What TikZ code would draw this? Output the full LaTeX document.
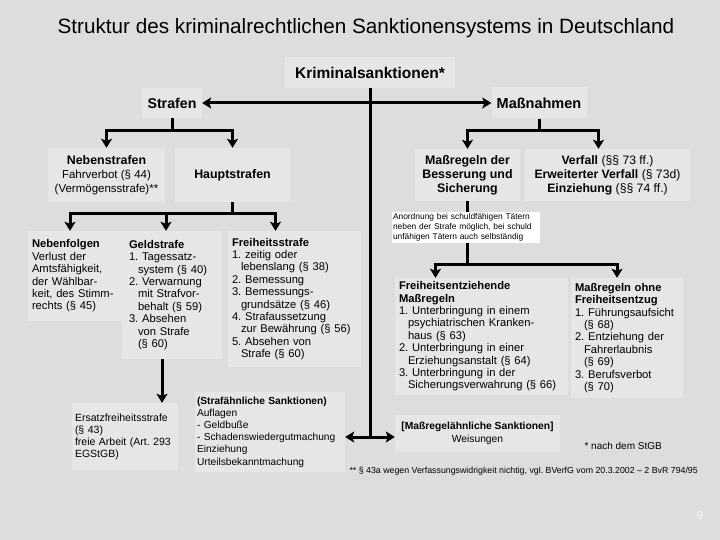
\documentclass[tikz,border=0pt]{standalone}
\usepackage{fontspec}
\setmainfont{Liberation Sans}
\usepackage{tikz}
\usetikzlibrary{arrows.meta,positioning,calc}
\frenchspacing
\definecolor{slidegray}{RGB}{221,221,221}
\definecolor{boxgray}{RGB}{230,230,230}
\definecolor{pagegray}{RGB}{245,245,245}
\newcommand{\fs}[2]{\fontsize{#1}{#2}\selectfont}
\newcommand{\contind}{\hspace*{9pt}}
\tikzset{
  headbox/.style={
    fill=boxgray,
    align=center,
    inner sep=2pt,
    font=\bfseries\fs{12.4}{14}
  },
  box/.style={
    fill=boxgray,
    align=left,
    inner xsep=4pt,
    inner ysep=2pt,
    font=\fs{11.2}{12.4}
  },
  notebox/.style={
    fill=white,
    align=left,
    inner xsep=1.5pt,
    inner ysep=1pt,
    font=\fs{8.4}{10}
  },
  link/.style={line width=3pt,black},
  arr/.style={link,-{Stealth[length=9pt,width=11pt,inset=2pt]}}
}

\begin{document}
\begin{tikzpicture}[x=1pt,y=-1pt]
        \useasboundingbox (0,0) rectangle (720,540);
        \fill[slidegray] (0,0) rectangle (720,540);

        \node[font=\fs{20.7}{24}] (title) at (366,28) {Struktur des kriminalrechtlichen Sanktionensystems in Deutschland};
        \node[headbox,font=\bfseries\fs{15.5}{18},minimum width=170pt,minimum height=31pt] (krim) at (370,72.5) {Kriminalsanktionen*};
        \node[headbox,font=\bfseries\fs{14.2}{16},minimum width=60pt,minimum height=30pt] (strafen) at (172,103) {Strafen};
        \node[headbox,font=\bfseries\fs{14.5}{16},minimum width=95pt,minimum height=31pt] (massn) at (539,103) {Maßnahmen};

        \node[headbox,minimum width=117pt,minimum height=54pt] (neben) at (106.5,175)
          {Nebenstrafen\\\mdseries\fs{11.5}{12.5}Fahrverbot (§ 44)\\\mdseries\fs{11.5}{12.5}(Vermögensstrafe)**};
        \node[headbox,minimum width=115pt,minimum height=54pt] (haupt) at (232.5,175) {Hauptstrafen};
        \node[headbox,minimum width=105pt,minimum height=52pt] (massreg) at (467.5,175)
          {Maßregeln der\\Besserung und\\Sicherung};
        \node[headbox,font=\fs{12.2}{14},minimum width=165pt,minimum height=52pt] (verfall) at (607.5,175)
          {\textbf{Verfall} (§§ 73 ff.)\\\textbf{Erweiterter Verfall} (§ 73d)\\\textbf{Einziehung} (§§ 74 ff.)};

        \node[box,text width=86pt,minimum width=92pt,minimum height=90pt] (nebenfolgen) at (75,276)
          {\textbf{Nebenfolgen}\\Verlust der\\Amtsfähigkeit,\\der Wählbar-\\keit, des Stimm-\\rechts (§ 45)};
        \node[box,inner xsep=7pt,text width=86pt,minimum width=100pt,minimum height=128pt] (geld) at (172,295)
          {\textbf{Geldstrafe}\\1. Tagessatz-\\\contind system (§ 40)\\2. Verwarnung\\\contind mit Strafvor-\\\contind behalt (§ 59)\\3. Absehen\\\contind von Strafe\\\contind (§ 60)};
        \node[box,text width=125pt,minimum width=133pt,minimum height=136pt] (freiheit) at (294.5,299)
          {\textbf{Freiheitsstrafe}\\1. zeitig oder\\\contind lebenslang (§ 38)\\2. Bemessung\\3. Bemessungs-\\\contind grundsätze (§ 46)\\4. Strafaussetzung\\\contind zur Bewährung (§ 56)\\5. Absehen von\\\contind Strafe (§ 60)};

        \node[box,text width=165pt,minimum width=173pt,minimum height=117pt] (freient) at (481.5,336.5)
          {\textbf{Freiheitsentziehende}\\\textbf{Maßregeln}\\1. Unterbringung in einem\\\contind psychiatrischen Kranken-\\\contind haus (§ 63)\\2. Unterbringung in einer\\\contind Erziehungsanstalt (§ 64)\\3. Unterbringung in der\\\contind Sicherungsverwahrung (§ 66)};
        \node[box,text width=104pt,minimum width=110pt,minimum height=120pt] (ohne) at (627,338)
          {\textbf{Maßregeln ohne}\\\textbf{Freiheitsentzug}\\1. Führungsaufsicht\\\contind (§ 68)\\2. Entziehung der\\\contind Fahrerlaubnis\\\contind (§ 69)\\3. Berufsverbot\\\contind (§ 70)};

        \node[box,font=\fs{10.5}{12},inner xsep=3pt,text width=100pt,minimum width=106pt,minimum height=67pt] (ersatz) at (125,436.5)
          {Ersatzfreiheitsstrafe\\(§ 43)\\freie Arbeit (Art. 293\\EGStGB)};
        \node[box,font=\fs{10.2}{12.2},inner xsep=2pt,text width=146pt,minimum width=150pt,minimum height=80pt] (strafaehn) at (270,432)
          {\textbf{(Strafähnliche Sanktionen)}\\Auflagen\\- Geldbuße\\- Schadenswiedergutmachung\\Einziehung\\Urteilsbekanntmachung};
        \node[headbox,font=\fs{10.3}{12.4},minimum width=165pt,minimum height=37pt] (massaehn) at (477.5,433.5)
          {\textbf{[Maßregelähnliche Sanktionen]}\\Weisungen};

        \node[anchor=west,font=\fs{10}{12}] (stgb) at (581,446) {* nach dem StGB};
        \node[anchor=west,font=\fs{8.8}{10}] (fussnote) at (346,471)
          {** § 43a wegen Verfassungswidrigkeit nichtig, vgl. BVerfG vom 20.3.2002 – 2 BvR 794/95};
        \node[text=pagegray,font=\fs{12}{14}] (pnum) at (700,515) {9};

        \coordinate (top) at (370,103);
        \coordinate (bot) at (370,437);
        \coordinate (sj) at ($(strafen.south)+(0,12)$);
        \coordinate (mj) at ($(massn.south)+(0,12)$);
        \coordinate (hj) at ($(haupt.south)+(0,11)$);
        \coordinate (rj) at (massreg.south |- 0,264);

        \draw[link] (krim.south) -- (bot);
        \draw[arr] (top) -- (strafen.east);
        \draw[arr] (top) -- (massn.west);
        \draw[arr] (bot) -- (strafaehn.east |- bot);
        \draw[arr] (bot) -- (massaehn.west |- bot);

        \draw[link] (strafen.south) -- (sj);
        \draw[arr] (sj) -| (neben.north);
        \draw[arr] (sj) -| (haupt.north);

        \draw[link] (haupt.south) -- (hj);
        \draw[arr] (hj) -| ([xshift=-5pt]nebenfolgen.north);
        \draw[arr] (hj) -| ([xshift=-6pt]geld.north);
        \draw[arr] (hj) -| ([xshift=-19pt]freiheit.north);
        \draw[arr] ([xshift=-10pt]geld.south) -- ([xshift=-10pt]geld.south |- ersatz.north);

        \draw[link] (massn.south) -- (mj);
        \draw[arr] (mj) -| (massreg.north);
        \draw[arr] (mj) -| ([xshift=-9pt]verfall.north);

        \draw[link] (massreg.south) -- (rj);
        \draw[arr] (rj) -| ([xshift=-46pt]freient.north);
        \draw[arr] (rj) -| ([xshift=-10pt]ohne.north);

        % note box lies over the stem
        \node[notebox,text width=145pt,minimum height=31pt] (anord) at (465.5,227.5)
          {Anordnung bei schuldfähigen Tätern\\neben der Strafe möglich, bei schuld\\unfähigen Tätern auch selbständig};
      \end{tikzpicture}
\end{document}
